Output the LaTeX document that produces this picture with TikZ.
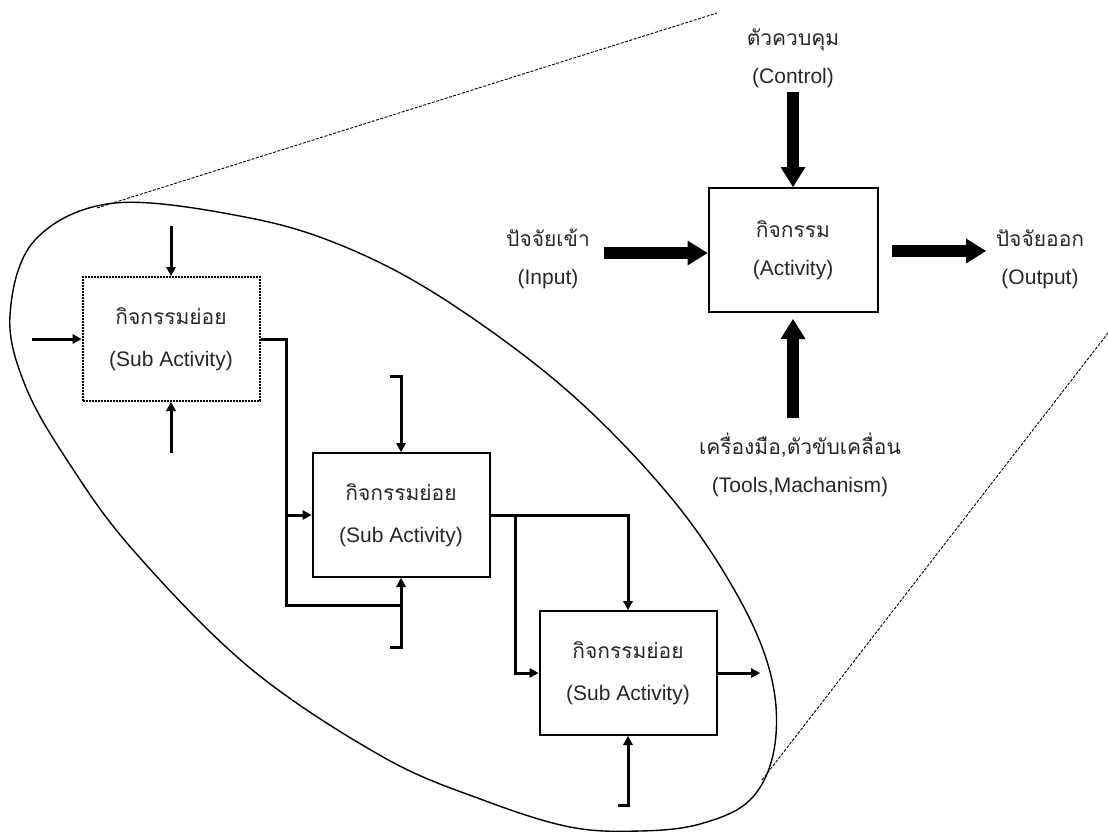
\documentclass[tikz,border=0pt]{standalone}
\usepackage{fontspec}
\setmainfont{Liberation Sans}
\newfontfamily\thaifont[Script=Thai]{Loma}
\usetikzlibrary{arrows.meta}

\begin{document}
\begin{tikzpicture}[
  x=1pt, y=-1pt,
  font=\fontsize{21}{38}\selectfont,
  act/.style={draw, line width=2pt, minimum width=169pt, minimum height=124pt,
              align=center, inner sep=0pt, text=black!85},
  sub/.style={draw, line width=2pt, minimum width=177pt, minimum height=124pt,
              align=center, inner sep=0pt, text=black!85, font=\fontsize{21}{42}\selectfont},
  subdash/.style={sub, line width=2pt, dash pattern=on 2pt off 1pt},
  lbl/.style={align=center, text=black!85},
  fat/.style={line width=12pt, -{Triangle[length=20pt,width=25pt,line width=0pt]}},
  wire/.style={line width=3pt},
  feed/.style={wire, -{Triangle[length=9pt,width=10pt,line width=0pt]}},
  zoomln/.style={line width=0.9pt, dash pattern=on 3pt off 1.5pt}
]
\useasboundingbox (0,0) rectangle (1108,832);

% zoom outline
\draw[line width=1.4pt] plot[smooth cycle, tension=0.6] coordinates {
  (115,203) (250,218) (350,249) (450,303) (570,393) (673,500)
  (740,600) (772,680) (774,750) (750,800) (700,824) (640,831) (570,827)
  (483,800) (383,757) (250,668) (133,550) (67,460) (25,385) (10,315) (35,240)};
\draw[zoomln] (97,208) -- (717,13);
\draw[zoomln] (762,780) -- (1108,333);

% main activity
\node[act] (act) at (793,250) {{\thaifont กิจกรรม}\\(Activity)};
\node[lbl] (ctl) at (793,58) {{\thaifont ตัวควบคุม}\\(Control)};
\node[lbl] (inl) at (548,259) {{\thaifont ปัจจัยเข้า}\\(Input)};
\node[lbl] (outl) at (1040,259) {{\thaifont ปัจจัยออก}\\(Output)};
\node[lbl] (tool) at (800,465) {{\thaifont เครื่องมือ,ตัวขับเคลื่อน}\\(Tools,Machanism)};
\coordinate (ctl0) at (793,92);
\coordinate (in0) at (604,253);
\coordinate (out1) at (986,251);
\coordinate (tool0) at (793,418);
\draw[fat] (ctl0) -- (act.north);
\draw[fat] (in0) -- (in0 -| act.west);
\draw[fat] ([xshift=13pt]act.east |- out1) -- (out1);
\draw[fat] (tool0) -- ([yshift=-6pt]act.south);

% sub activities
\node[subdash] (s1) at (171,339) {{\thaifont กิจกรรมย่อย}\\(Sub Activity)};
\node[sub] (s2) at (401,515) {{\thaifont กิจกรรมย่อย}\\(Sub Activity)};
\node[sub] (s3) at (628,673) {{\thaifont กิจกรรมย่อย}\\(Sub Activity)};

\coordinate (s1in) at (32,339);
\coordinate (s1c) at (171,226);
\coordinate (s1m) at (171,453);
\draw[feed] (s1in) -- (s1.west);
\draw[feed] (s1c) -- (s1.north);
\draw[feed] (s1m) -- (s1.south);

\coordinate (j1) at (286,339);
\coordinate (j2) at (286,605);
\coordinate (s2c) at (390,376);
\coordinate (s2m) at (390,647);
\draw[wire] (s1.east) -- (j1) -- (j2) -- (j2 -| s2.south);
\draw[feed] (j1 |- s2.west) -- (s2.west);
\draw[feed] (s2c) -- (s2c -| s2.north) -- (s2.north);
\draw[feed] (s2m) -- (s2m -| s2.south) -- (s2.south);

\coordinate (j3) at (515,515);
\coordinate (s3c) at (618,805);
\coordinate (s3out) at (760,673);
\draw[feed] (s2.east) -- (s2.east -| s3.north) -- (s3.north);
\draw[feed] (j3) -- (j3 |- s3.west) -- (s3.west);
\draw[feed] (s3.east) -- (s3out);
\draw[feed] (s3c) -- (s3c -| s3.south) -- (s3.south);
\end{tikzpicture}
\end{document}
